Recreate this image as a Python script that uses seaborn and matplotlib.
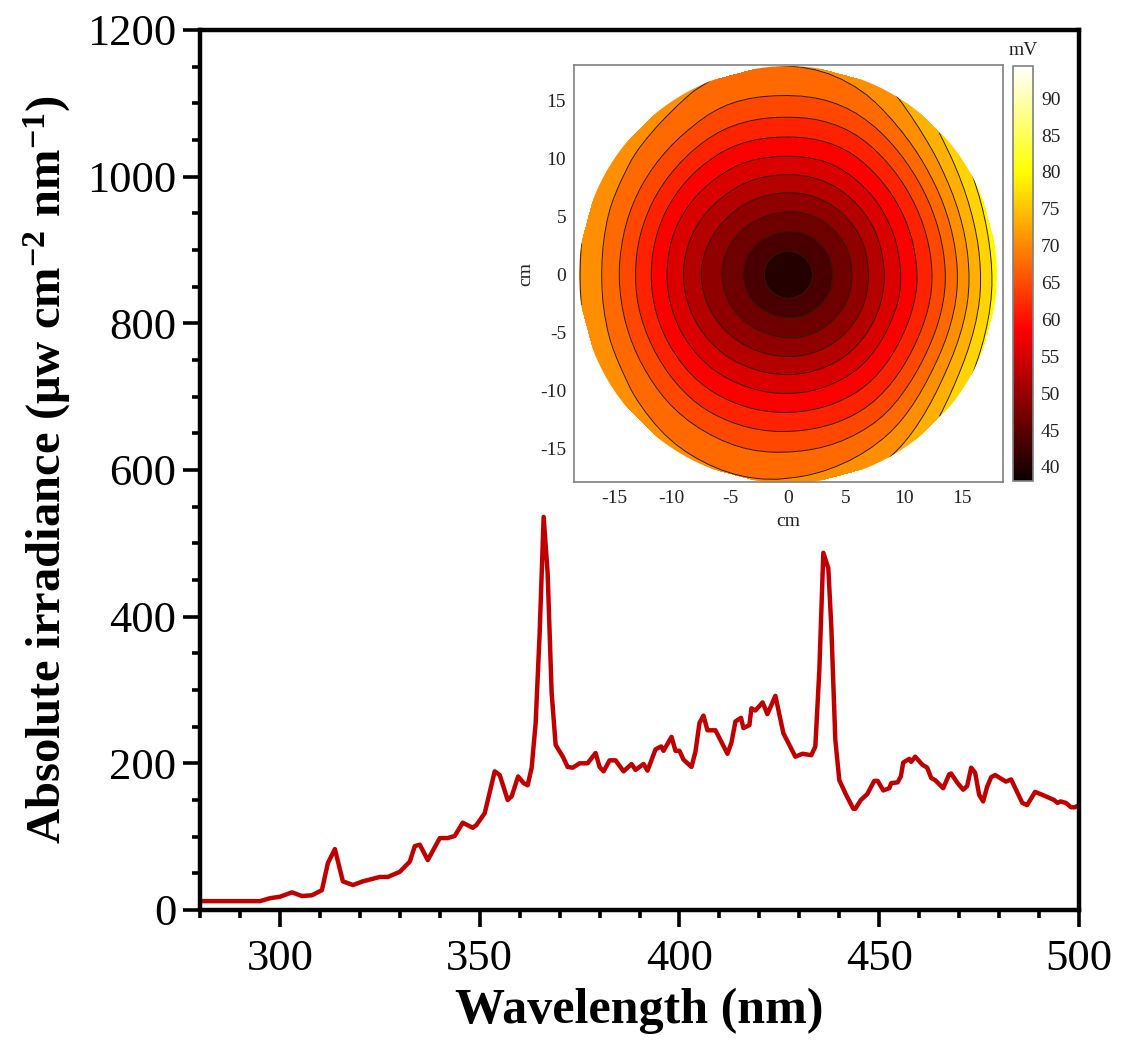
"""Absolute irradiance spectrum with an inset contour map of the lamp field."""

import matplotlib

matplotlib.use("Agg")

import matplotlib.pyplot as plt
import matplotlib.tri as mtri
import numpy as np
import seaborn as sns
from matplotlib.cm import ScalarMappable
from matplotlib.colors import Normalize
from matplotlib.patches import Circle
from matplotlib.ticker import MultipleLocator


# ---- spectrum ----
WAVELENGTH_NM = [
    280, 285, 290, 295, 297.5, 300, 303, 305.5, 308, 310.5, 312, 313.75, 315.75,
    318.25, 320.75, 325, 327, 330, 332.5, 333.75, 335, 337, 340, 342, 343.75,
    345.75, 348.25, 349.2, 351.25, 353.75, 355, 357, 358, 359.6, 361, 362, 363,
    364, 365, 366, 367, 368, 369, 370.8, 372, 373.3, 375, 377, 379, 380, 381,
    382.5, 384, 386, 388, 389, 391, 392, 394, 395.4, 396, 398, 399, 400, 401,
    403, 404, 405, 406, 407, 409, 412, 413, 414, 415.4, 416, 417.5, 418, 419,
    420.8, 422, 424, 426, 427.5, 429, 430.8, 433, 434, 435, 436, 437.25, 438,
    439, 440, 441.7, 443.5, 444, 445.4, 447, 448.75, 449.6, 451, 452.5, 453,
    454.6, 455.4, 456, 457.5, 458, 459, 460.8, 462, 463, 464, 466, 467.5, 468,
    469.6, 471, 472, 473, 474, 475, 476, 477, 478, 479, 481.7, 483, 485.8, 487,
    489, 490.8, 492.5, 493.75, 494.6, 495.4, 496.7, 498, 499, 500,
]
IRRADIANCE = [
    12, 12, 12, 12, 16, 18, 24, 19, 20, 27, 64, 83, 39,
    34, 39, 45, 45, 52, 66, 87, 89, 68, 98, 98, 101,
    119, 112, 116, 132, 189, 184, 150, 155, 182, 173, 170, 194,
    255, 378, 536, 459, 296, 225, 209, 195, 194, 200, 200, 214, 195, 189,
    204, 204, 189, 199, 191, 199, 190, 219, 223, 217, 236, 217, 217, 205,
    195, 216, 255, 265, 245, 245, 213, 228, 257, 262, 248, 252, 275, 272,
    283, 267, 292, 241, 225, 209, 213, 211, 223, 327, 487, 466, 386,
    232, 177, 157, 138, 138, 150, 158, 176, 176, 163, 166, 173,
    174, 182, 201, 206, 202, 209, 198, 194, 180, 177, 166, 185, 186,
    173, 164, 169, 194, 187, 157, 148, 168, 181, 184, 175, 178, 146, 143,
    161, 157, 153, 150, 146, 148, 146, 140, 140, 143,
]

# ---- inset: measured signal (mV) on a polar layout ----
INSET_CENTER_MV = 39.5
INSET_ANGLES_DEG = [0, 30, 60, 90, 120, 150, 180, 210, 240, 270, 300, 330]
INSET_RADII_CM = [3, 6, 9, 12, 15, 18.5]
INSET_MV = [
    [43.6, 49.0, 55.5, 62.0, 70.2, 81.0],
    [43.6, 48.9, 55.3, 61.8, 69.5, 79.0],
    [43.7, 48.9, 54.8, 60.5, 66.4, 72.5],
    [43.8, 49.0, 54.7, 60.2, 65.3, 69.5],
    [43.8, 49.0, 54.5, 60.0, 65.5, 70.0],
    [43.7, 48.7, 54.2, 60.3, 66.5, 71.5],
    [43.7, 48.5, 54.0, 60.5, 67.0, 73.0],
    [43.7, 48.7, 54.2, 60.3, 66.5, 71.5],
    [43.8, 49.0, 54.5, 60.0, 65.5, 70.0],
    [43.8, 49.0, 54.7, 60.2, 65.5, 70.0],
    [43.7, 48.9, 54.8, 60.5, 66.4, 73.0],
    [43.6, 48.9, 55.3, 61.8, 69.5, 79.0],
]
CONTOUR_LEVELS_MV = [36, 39, 42, 45, 48, 51, 54, 57, 60, 63, 66, 69, 72, 75, 78, 81, 84]
COLORBAR_TICKS = [40, 45, 50, 55, 60, 65, 70, 75, 80, 85, 90]
INSET_TICKS = [-15, -10, -5, 0, 5, 10, 15]

LINE_COLOR = "#c00000"
SERIF = ["Liberation Serif", "DejaVu Serif"]


def draw_spectrum(fig):
    ax = fig.add_axes([0.1783, 0.1284, 0.7834, 0.8429])
    sns.lineplot(
        x=WAVELENGTH_NM, y=IRRADIANCE, ax=ax, color=LINE_COLOR,
        linewidth=3.2, estimator=None, sort=False,
    )
    ax.set_xlim(280, 500)
    ax.set_ylim(0, 1200)
    ax.set_xticks([300, 350, 400, 450, 500])
    ax.set_yticks([0, 200, 400, 600, 800, 1000, 1200])
    ax.xaxis.set_minor_locator(MultipleLocator(10))
    ax.yaxis.set_minor_locator(MultipleLocator(50))
    ax.tick_params(which="both", direction="out", width=2.6, top=False, right=False,
                   labelsize=32, color="black", labelcolor="black")
    ax.tick_params(which="major", length=12, pad=5)
    ax.tick_params(axis="x", which="major", pad=9)
    ax.tick_params(which="minor", length=6)
    for spine in ax.spines.values():
        spine.set_visible(True)
        spine.set_linewidth(3.2)
        spine.set_color("black")
    ax.set_xlabel("Wavelength (nm)", fontsize=36, fontweight="bold", labelpad=6)
    ax.set_ylabel("Absolute irradiance (μw cm$^{-2}$ nm$^{-1}$)",
                  fontsize=35, fontweight="bold", labelpad=10)
    return ax


def draw_inset(fig):
    ax = fig.add_axes([0.5119, 0.5383, 0.3818, 0.3994])
    cax = fig.add_axes([0.9031, 0.5393, 0.0173, 0.3978])

    angles = np.deg2rad(INSET_ANGLES_DEG)
    xs, ys, zs = [0.0], [0.0], [INSET_CENTER_MV]
    for angle, row in zip(angles, INSET_MV):
        for radius, value in zip(INSET_RADII_CM, row):
            xs.append(radius * np.cos(angle))
            ys.append(radius * np.sin(angle))
            zs.append(value)

    # let matplotlib smooth the triangulated field for drawing
    triang = mtri.Triangulation(xs, ys)
    fine_tri, fine_z = mtri.UniformTriRefiner(triang).refine_field(np.array(zs), subdiv=3)

    norm = Normalize(vmin=38.1, vmax=94.4)
    filled = ax.tricontourf(fine_tri, fine_z, levels=CONTOUR_LEVELS_MV, cmap="hot", norm=norm)
    lines = ax.tricontour(fine_tri, fine_z, levels=CONTOUR_LEVELS_MV, colors="#2a1a00",
                          linewidths=0.7)
    disk = Circle((0, 0), 18.0, transform=ax.transData, facecolor="none", edgecolor="none")
    ax.add_patch(disk)
    filled.set_clip_path(disk)
    lines.set_clip_path(disk)

    ax.set_xlim(-18.4, 18.5)
    ax.set_ylim(-17.9, 18.1)
    ax.set_xticks(INSET_TICKS)
    ax.set_yticks(INSET_TICKS)
    ax.tick_params(length=0, labelsize=14, labelcolor="#222222", pad=6)
    for spine in ax.spines.values():
        spine.set_visible(True)
        spine.set_color("#808080")
        spine.set_linewidth(1.2)
    ax.set_xlabel("cm", fontsize=14, color="#222222", labelpad=4)
    ax.set_ylabel("cm", fontsize=14, color="#222222", labelpad=4)

    cbar = fig.colorbar(ScalarMappable(norm=norm, cmap="hot"), cax=cax)
    cbar.set_ticks(COLORBAR_TICKS)
    cbar.outline.set_edgecolor("#808080")
    cbar.outline.set_linewidth(1.2)
    cax.tick_params(direction="in", left=True, right=True, length=4, width=0.8,
                    color="#444444", labelsize=14, labelcolor="#222222", pad=6)
    cax.set_title("mV", fontsize=14, color="#222222", pad=8)


def main():
    sns.set_style("ticks")
    plt.rcParams["font.family"] = SERIF
    plt.rcParams["mathtext.default"] = "regular"
    plt.rcParams["axes.unicode_minus"] = False
    plt.rcParams["text.color"] = "black"
    plt.rcParams["axes.labelcolor"] = "black"

    fig = plt.figure(figsize=(11.22, 10.44), dpi=100)
    draw_spectrum(fig)
    draw_inset(fig)
    fig.savefig("out.png", dpi=100, facecolor="white")
    plt.close(fig)


if __name__ == "__main__":
    main()
